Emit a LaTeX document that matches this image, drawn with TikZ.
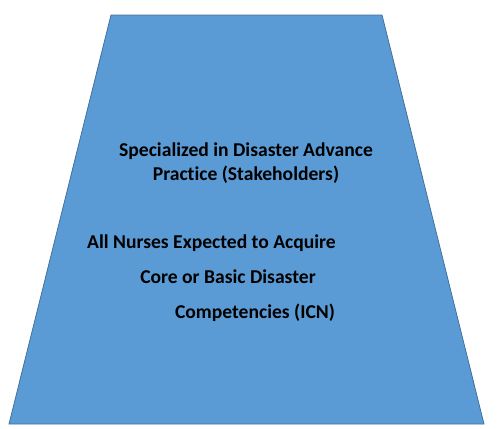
\documentclass[tikz,border=0pt]{standalone}
\usepackage{fontspec}
\setmainfont{Carlito}[Ligatures=NoCommon]
\usetikzlibrary{positioning}
\definecolor{trapfill}{HTML}{5B9BD5}
\definecolor{trapline}{HTML}{41719C}
\begin{document}
\begin{tikzpicture}[x=1pt, y=-1pt, label/.style={anchor=base, inner sep=0pt, font=\bfseries\fontsize{19.6}{24}\selectfont}]
  \useasboundingbox (0,0) rectangle (499,429);
  \draw[trapline, fill=trapfill, line width=0.8pt] (111,15) -- (382,15) -- (484,424) -- (9,424) -- cycle;

  \node[label] (spec) at (246,156) {Specialized in Disaster Advance};
  \node[label] (prac) at (246,180) {Practice (Stakeholders)};
  \node[label] (all) at (211.5,248) {All Nurses Expected to Acquire};
  \node[label] (core) at (228,283) {Core or Basic Disaster};
  \node[label] (comp) at (255,318) {Competencies (ICN)};
\end{tikzpicture}
\end{document}
